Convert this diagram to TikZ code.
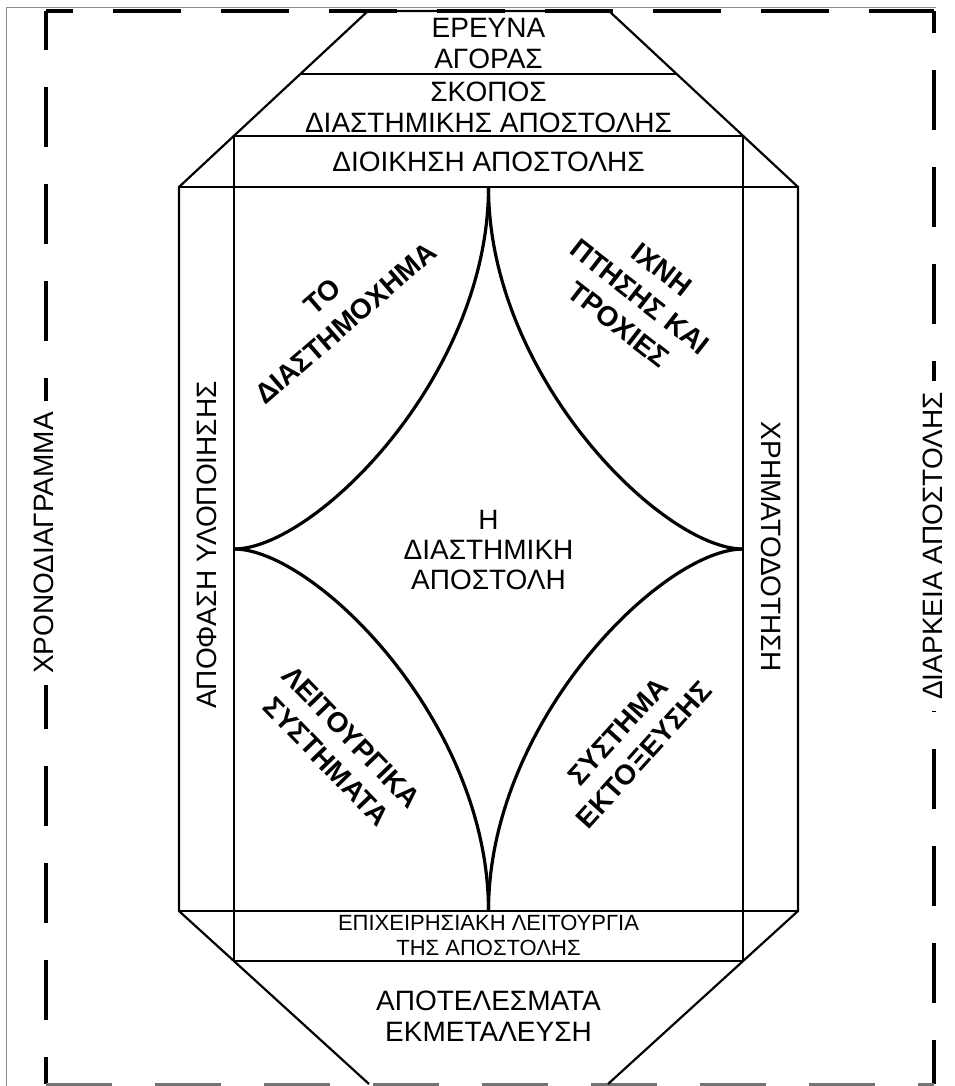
\documentclass[tikz,border=0pt]{standalone}
\usepackage{fontspec}
\setmainfont{Liberation Sans}
\begin{document}
\begin{tikzpicture}[x=1pt,y=-1pt,
  border/.style={line width=4pt, black},
  frame/.style={line width=2.2pt, black},
  star/.style={line width=3.2pt, black},
  lbl/.style={font=\fontsize{28}{31}\selectfont, align=center, inner sep=0pt},
  small/.style={font=\fontsize{22}{25}\selectfont, align=center, inner sep=0pt},
  quad/.style={font=\bfseries\fontsize{28}{35}\selectfont, align=center, inner sep=0pt},
  side/.style={lbl, fill=white, inner xsep=11pt, inner ysep=4pt}
]
\useasboundingbox (0,0) rectangle (954,1086);
% thin outer frame of the scan
\draw[black!45, line width=0.8pt] (6,1086) -- (6,7) -- (936,7);
% dashed border
\draw[border, dash pattern=on 68pt off 40pt, dash phase=41pt] (46,11) -- (934,11);
\draw[border, dash pattern=on 60pt off 37pt, dash phase=21pt] (46,11) -- (46,1084);
\draw[border, dash pattern=on 60pt off 37pt, dash phase=38pt] (934,11) -- (934,1084);
\draw[line width=3pt, black!55, dash pattern=on 66pt off 43pt] (46,1084) -- (934,1084);
% octagon outline
\draw[frame] (369,1084) -- (179,911) -- (179,187) -- (368,11) -- (609,11) -- (798,187) -- (798,911) -- (608,1084);
% horizontal bands
\draw[frame] (300,74) -- (677,74);
\draw[frame] (234,136) -- (743,136);
\draw[frame] (179,187) -- (798,187);
\draw[frame] (179,911) -- (798,911);
\draw[frame] (234,961) -- (743,961);
% inner verticals
\draw[frame] (234,136) -- (234,961);
\draw[frame] (743,136) -- (743,961);
% central star
\coordinate (sT) at (488.5,187);
\coordinate (sB) at (488.5,911);
\coordinate (sL) at (234,549);
\coordinate (sR) at (743,549);
\draw[star] (sT) .. controls (488.5,377) and (314,549) .. (sL);
\draw[star] (sT) .. controls (488.5,377) and (663,549) .. (sR);
\draw[star] (sB) .. controls (488.5,721) and (314,549) .. (sL);
\draw[star] (sB) .. controls (488.5,721) and (663,549) .. (sR);
% labels
\node[lbl] (agora) at (488.5,44) {ΕΡΕΥΝΑ\\ΑΓΟΡΑΣ};
\node[lbl] (skopos) at (488.5,107) {ΣΚΟΠΟΣ\\ΔΙΑΣΤΗΜΙΚΗΣ ΑΠΟΣΤΟΛΗΣ};
\node[lbl] (dioik) at (488.5,162) {ΔΙΟΙΚΗΣΗ ΑΠΟΣΤΟΛΗΣ};
\node[small] (epix) at (488.5,935) {ΕΠΙΧΕΙΡΗΣΙΑΚΗ ΛΕΙΤΟΥΡΓΙΑ\\ΤΗΣ ΑΠΟΣΤΟΛΗΣ};
\node[lbl] (apot) at (488.5,1016) {ΑΠΟΤΕΛΕΣΜΑΤΑ\\ΕΚΜΕΤΑΛΕΥΣΗ};
\node[lbl, font=\fontsize{28}{30}\selectfont] (mission) at (488.5,550) {Η\\ΔΙΑΣΤΗΜΙΚΗ\\ΑΠΟΣΤΟΛΗ};
% side labels
\node[side, rotate=90] (chrono) at (44,543) {ΧΡΟΝΟΔΙΑΓΡΑΜΜΑ};
\node[lbl, rotate=90] (apofasi) at (207,545) {ΑΠΟΦΑΣΗ ΥΛΟΠΟΙΗΣΗΣ};
\node[lbl, rotate=-90] (chrima) at (771,547) {ΧΡΗΜΑΤΟΔΟΤΗΣΗ};
\node[side, rotate=90] (diark) at (933,546) {ΔΙΑΡΚΕΙΑ ΑΠΟΣΤΟΛΗΣ};
% quadrant labels
\node[quad, rotate=41] (craft) at (334,310) {ΤΟ\\ΔΙΑΣΤΗΜΟΧΗΜΑ};
\node[quad, rotate=-38] (traj) at (640,297) {ΙΧΝΗ\\ΠΤΗΣΗΣ ΚΑΙ\\ΤΡΟΧΙΕΣ};
\node[quad, rotate=-46] (ops) at (339,749) {ΛΕΙΤΟΥΡΓΙΚΑ\\ΣΥΣΤΗΜΑΤΑ};
\node[quad, rotate=48] (launch) at (631,743) {ΣΥΣΤΗΜΑ\\ΕΚΤΟΞΕΥΣΗΣ};
\end{tikzpicture}
\end{document}
